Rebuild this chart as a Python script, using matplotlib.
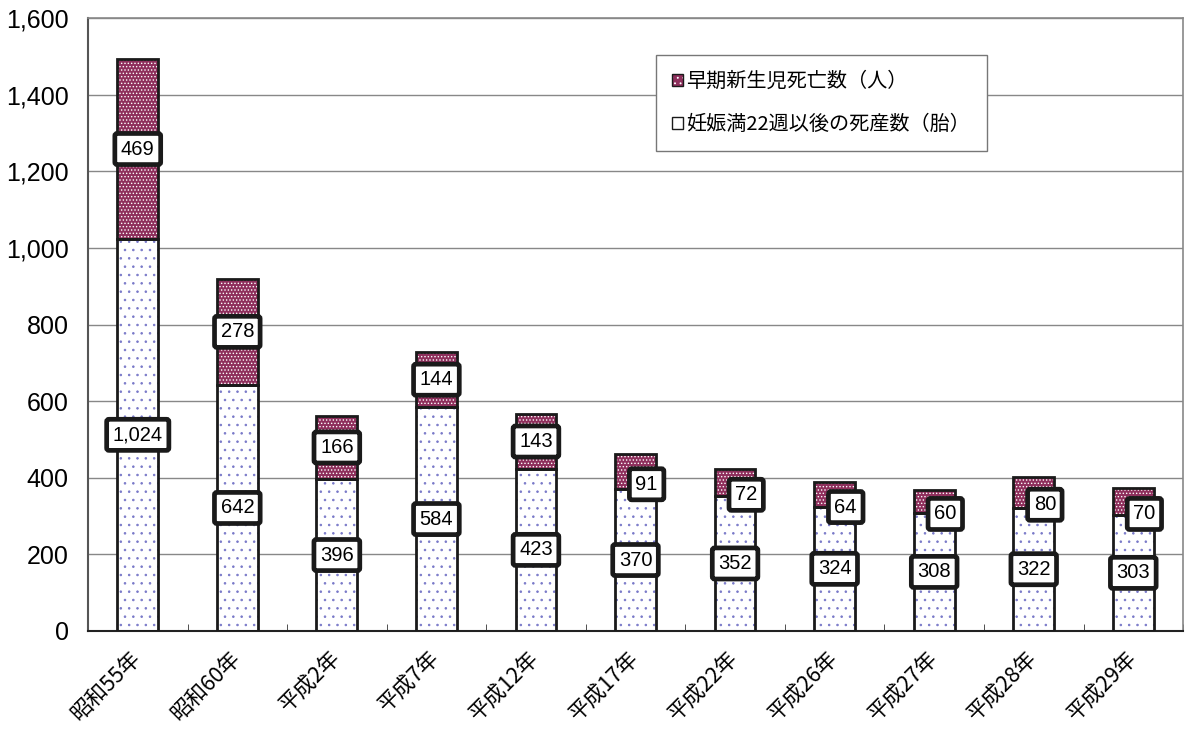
import matplotlib
matplotlib.use("Agg")
import matplotlib.pyplot as plt
from matplotlib.patches import Patch
from matplotlib.legend_handler import HandlerTuple
import numpy as np

plt.rcParams['font.family'] = ['Liberation Sans', 'Noto Sans CJK JP', 'DejaVu Sans']
plt.rcParams['hatch.linewidth'] = 0.6

categories = ['昭和55年', '昭和60年', '平成2年', '平成7年', '平成12年', '平成17年',
              '平成22年', '平成26年', '平成27年', '平成28年', '平成29年']
stillbirths = [1024, 642, 396, 584, 423, 370, 352, 324, 308, 322, 303]
early_neonatal = [469, 278, 166, 144, 143, 91, 72, 64, 60, 80, 70]
series_names = ['早期新生児死亡数（人）', '妊娠満22週以後の死産数（胎）']
yticks = [0, 200, 400, 600, 800, 1000, 1200, 1400, 1600]

fig = plt.figure(figsize=(11.89, 7.31), dpi=100)
ax = fig.add_axes([0.074, 0.137, 0.921, 0.838])

x = np.arange(len(categories))
w = 0.41
top_color = '#8e2f5c'
dot_blue = '#7878c8'
bot_hatch = '..'
top_hatch = '.....'

# bottom segment: white with sparse blue dots
ax.bar(x, stillbirths, w, color='white', edgecolor=dot_blue, hatch=bot_hatch, linewidth=0, zorder=2)
ax.bar(x, stillbirths, w, fill=False, edgecolor='#1a1a1a', linewidth=2.0, zorder=3)
# top segment: plum with white dots
ax.bar(x, early_neonatal, w, bottom=stillbirths, color=top_color, edgecolor='white',
       hatch=top_hatch, linewidth=0, zorder=2)
ax.bar(x, early_neonatal, w, bottom=stillbirths, fill=False, edgecolor='#1a1a1a',
       linewidth=2.0, zorder=3)

bbox = dict(boxstyle='round,pad=0.3,rounding_size=0.12', fc='white', ec='#1a1a1a', lw=3.4)
for i in range(len(categories)):
    ax.text(x[i], stillbirths[i] / 2, f'{stillbirths[i]:,}', ha='center', va='center',
            fontsize=14.5, bbox=bbox, zorder=5)
    ymid = stillbirths[i] + early_neonatal[i] / 2
    if early_neonatal[i] < 100:
        ax.annotate(f'{early_neonatal[i]:,}', (x[i], ymid), xytext=(8, -9),
                    textcoords='offset points', ha='center', va='center',
                    fontsize=14.5, bbox=bbox, zorder=5)
    else:
        ax.text(x[i], ymid, f'{early_neonatal[i]:,}', ha='center', va='center',
                fontsize=14.5, bbox=bbox, zorder=5)

ax.set_xlim(-0.5, len(categories) - 0.5)
ax.set_ylim(0, 1600)
ax.set_yticks(yticks)
ax.set_yticklabels([f'{v:,}' for v in yticks], fontsize=18)
ax.yaxis.grid(True, color='#888888', linewidth=1.0, zorder=0)
ax.set_axisbelow(True)
ax.tick_params(axis='y', length=0, pad=14)

ax.set_xticks(x)
ax.set_xticklabels(categories, rotation=45, ha='right', va='center', rotation_mode='anchor',
                   fontsize=15.5, family=['Noto Sans CJK JP', 'DejaVu Sans'])
ax.set_xticks(np.arange(len(categories) + 1) - 0.5, minor=True)
ax.tick_params(axis='x', which='major', length=0, pad=17)
ax.tick_params(axis='x', which='minor', direction='in', length=5, color='#333333')

for s in ['top', 'right']:
    ax.spines[s].set_color('#888888')
    ax.spines[s].set_linewidth(1.2)
ax.spines['left'].set_color('#555555')
ax.spines['left'].set_linewidth(1.5)
ax.spines['bottom'].set_color('#222222')
ax.spines['bottom'].set_linewidth(1.5)

h_top = (Patch(facecolor=top_color, edgecolor='white', hatch='...', linewidth=0),
         Patch(fill=False, edgecolor='#1a1a1a', linewidth=1.0))
h_bot = (Patch(facecolor='white', edgecolor=dot_blue, hatch='', linewidth=0),
         Patch(fill=False, edgecolor='#1a1a1a', linewidth=1.0))
leg = ax.legend([h_top, h_bot], series_names, handler_map={tuple: HandlerTuple(ndivide=1)},
                loc='upper left', bbox_to_anchor=(0.519, 0.94), fancybox=False,
                edgecolor='#777777', framealpha=1,
                prop={'family': ['Noto Sans CJK JP', 'DejaVu Sans'], 'size': 14.5},
                handlelength=0.5, handleheight=0.5, handletextpad=0.2,
                labelspacing=1.1, borderpad=0.8, borderaxespad=0)
leg.get_frame().set_linewidth(1.0)
leg.set_zorder(6)

fig.savefig('out.png', dpi=100)
